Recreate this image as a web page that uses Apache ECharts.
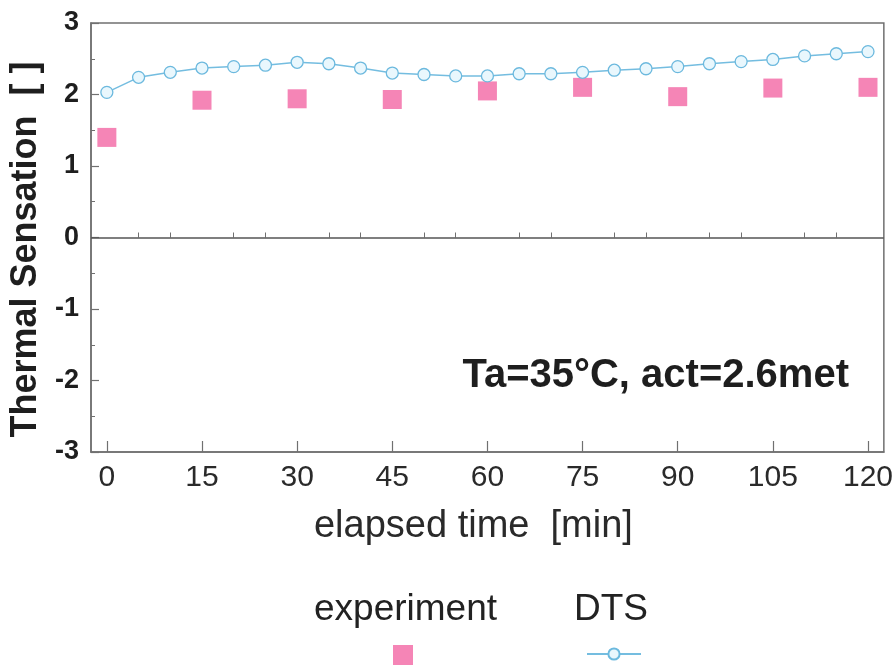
<!DOCTYPE html>
<html><head><meta charset="utf-8">
<script src="https://cdn.jsdelivr.net/npm/echarts@6/dist/echarts.min.js"></script>
<style>html,body{margin:0;padding:0;background:#fff}#c{width:896px;height:667px}</style>
</head><body><div id="c"></div>
<script>
// ---- data ----
const dtsMinutes = [0,5,10,15,20,25,30,35,40,45,50,55,60,65,70,75,80,85,90,95,100,105,110,115,120];
const dtsValues  = [2.03,2.24,2.31,2.37,2.39,2.41,2.45,2.43,2.37,2.30,2.28,2.26,2.26,2.29,2.29,2.31,2.34,2.36,2.39,2.43,2.46,2.49,2.54,2.57,2.60];
const expMinutes = [0,15,30,45,60,75,90,105,120];
const expValues  = [1.40,1.92,1.94,1.93,2.05,2.10,1.97,2.09,2.10];
const xTickLabels = [0,15,30,45,60,75,90,105,120];
const xMinorTicks = [5,10,20,25,35,40,50,55,65,70,80,85,95,100,110,115];
const yTickLabels = [-3,-2,-1,0,1,2,3];
const seriesNames = ['experiment','DTS'];
const annotationText = 'Ta=35°C, act=2.6met';

const F = "'Liberation Sans', Arial, Helvetica, sans-serif";
const AX = '#707070';
const chart = echarts.init(document.getElementById('c'), null, {renderer:'canvas'});
const option = {
  animation: false,
  backgroundColor: '#ffffff',
  grid: {left: 90, right: 12, top: 23, bottom: 215, show: true, borderColor: AX, borderWidth: 1.5},
  xAxis: [{
    type: 'value', min: -2.5, max: 122.5,
    axisLine: {show: true, onZero: false, lineStyle: {color: AX, width: 1.5}},
    splitLine: {show: false},
    axisTick: {show: true, inside: true, length: 11, customValues: xTickLabels, lineStyle: {color: AX, width: 1.2}},
    axisLabel: {customValues: xTickLabels, fontFamily: F, fontSize: 30, color: '#2a2a2a', margin: 11},
    name: 'elapsed time  [min]', nameLocation: 'middle', nameGap: 56,
    nameTextStyle: {fontFamily: F, fontSize: 38, color: '#2a2a2a', padding: [0, 28, 0, 0]}
  }, {
    type: 'value', min: -2.5, max: 122.5, position: 'bottom',
    axisLine: {show: false}, axisLabel: {show: false}, splitLine: {show: false},
    axisTick: {show: true, inside: true, length: 5, customValues: xMinorTicks, lineStyle: {color: AX, width: 1}}
  }],
  yAxis: {
    type: 'value', min: -3, max: 3, interval: 1,
    axisLine: {show: true, onZero: false, lineStyle: {color: AX, width: 1.5}},
    splitLine: {show: false},
    axisTick: {show: true, inside: true, length: 8, lineStyle: {color: AX, width: 1.2}},
    minorTick: {show: true, splitNumber: 2, length: 4, lineStyle: {color: AX, width: 1}},
    axisLabel: {fontFamily: F, fontSize: 27, fontWeight: 'bold', color: '#1e1e1e', margin: 12,
      formatter: v => yTickLabels.includes(v) ? String(v) : ''},
    name: 'Thermal Sensation  [ ]', nameLocation: 'middle', nameGap: 47,
    nameTextStyle: {fontFamily: F, fontSize: 36, fontWeight: 'bold', color: '#1e1e1e', padding: [0, 24, 0, 0]}
  },
  legend: [{
    data: [seriesNames[0]], left: 393, top: 645, padding: 0, icon: 'rect', itemWidth: 20, itemHeight: 20,
    formatter: () => '', selectedMode: false
  }, {
    data: [seriesNames[1]], left: 586, top: 647, padding: 0, itemWidth: 54, itemHeight: 14,
    formatter: () => '', selectedMode: false
  }],
  graphic: [
    {type: 'text', left: 314, top: 591, style: {text: seriesNames[0], font: "37px 'Liberation Sans', Arial, sans-serif", fill: '#222'}},
    {type: 'text', left: 574, top: 591, style: {text: seriesNames[1], font: "37px 'Liberation Sans', Arial, sans-serif", fill: '#222'}},
    {type: 'text', right: 47, top: 356, style: {text: annotationText, font: "bold 40px 'Liberation Sans', Arial, sans-serif", fill: '#1e1e1e'}}
  ],
  series: [{
    name: seriesNames[0], type: 'scatter', symbol: 'rect', symbolSize: 19,
    itemStyle: {color: '#f266a4'},
    data: expMinutes.map((m, i) => [m, expValues[i]]),
    markLine: {silent: true, symbol: ['none', 'none'], label: {show: false},
      lineStyle: {color: '#555', width: 1.5, type: 'solid'}, data: [{yAxis: 0}]},
    z: 3
  }, {
    name: seriesNames[1], type: 'line', symbol: 'circle', symbolSize: 12,
    lineStyle: {color: '#74bde0', width: 1.5},
    itemStyle: {color: '#e9f7fd', borderColor: '#6cb9de', borderWidth: 1.3},
    data: dtsMinutes.map((m, i) => [m, dtsValues[i]]),
    z: 4
  }]
};
chart.setOption(option);
</script></body></html>
